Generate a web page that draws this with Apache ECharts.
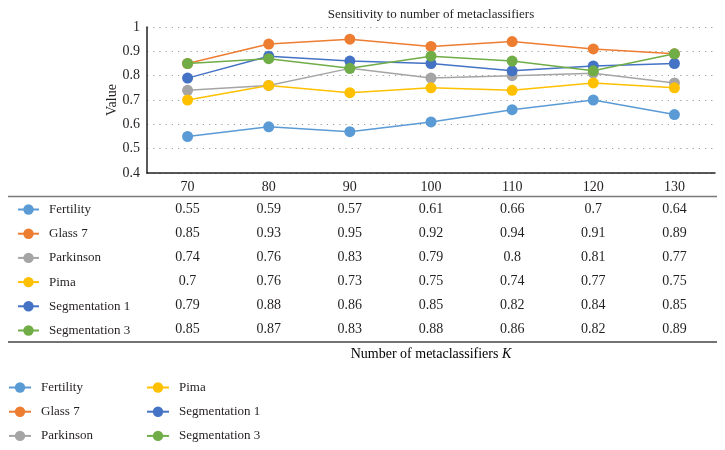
<!DOCTYPE html>
<html><head><meta charset="utf-8">
<script src="https://cdn.jsdelivr.net/npm/echarts@6/dist/echarts.min.js"></script>
<style>html,body{margin:0;padding:0;background:#fff}#c{width:725px;height:450px}</style>
</head><body><div id="c"></div>
<script>
const categories = ['70','80','90','100','110','120','130'];
const seriesNames = ['Fertility','Glass 7','Parkinson','Pima','Segmentation 1','Segmentation 3'];
const fertility = [0.55,0.59,0.57,0.61,0.66,0.7,0.64];
const glass7 = [0.85,0.93,0.95,0.92,0.94,0.91,0.89];
const parkinson = [0.74,0.76,0.83,0.79,0.8,0.81,0.77];
const pima = [0.7,0.76,0.73,0.75,0.74,0.77,0.75];
const segmentation1 = [0.79,0.88,0.86,0.85,0.82,0.84,0.85];
const segmentation3 = [0.85,0.87,0.83,0.88,0.86,0.82,0.89];
const yTicks = [0.4,0.5,0.6,0.7,0.8,0.9,1];
const titleText = 'Sensitivity to number of metaclassifiers';
const yName = 'Value';
const xName = 'Number of metaclassifiers ';
const xNameK = 'K';

const values = [fertility, glass7, parkinson, pima, segmentation1, segmentation3];
const colors = ['#5B9BD5','#ED7D31','#A5A5A5','#FFC000','#4472C4','#70AD47'];
const FONT = '"Liberation Serif", "DejaVu Serif", serif';
const TXT = '#231f20';

const chart = echarts.init(document.getElementById('c'), null, {renderer:'canvas'});
const legendText = {fontFamily: FONT, fontSize: 13, color: TXT, padding:[0,0,0,5]};
const legendCommon = {orient: 'vertical', itemWidth: 21, itemHeight: 13, itemGap: 11.2, padding: 0,
  selectedMode: false, textStyle: legendText, height: 200, width: 200};
const baseOpt = {
  animation: false,
  color: colors,
  grid: {left: 147, right: 10, top: 27, bottom: 277, containLabel: false},
  xAxis: {
    type: 'category', data: categories, boundaryGap: true,
    axisLine: {lineStyle: {color: '#222', width: 1.5}},
    axisTick: {show: false},
    axisLabel: {fontFamily: FONT, fontSize: 14, color: TXT, margin: 7}
  },
  yAxis: {
    type: 'value', min: yTicks[0], max: yTicks[yTicks.length-1], interval: 0.1,
    name: yName, nameLocation: 'middle', nameGap: 28, nameMoveOverlap: false,
    nameTextStyle: {fontFamily: FONT, fontSize: 14, color: TXT},
    axisLine: {show: true, lineStyle: {color: '#222', width: 1.5}},
    axisTick: {show: false},
    axisLabel: {fontFamily: FONT, fontSize: 14, color: TXT, margin: 7,
      formatter: v => String(Math.round(v*10)/10)},
    splitLine: {lineStyle: {color: '#9a9a9a', type: [1.2, 5], width: 1}}
  },
  legend: [
    Object.assign({}, legendCommon, {data: seriesNames, left: 17, top: 203}),
    Object.assign({}, legendCommon, {data: seriesNames.slice(0,3), left: 8, top: 381, itemWidth: 22}),
    Object.assign({}, legendCommon, {data: seriesNames.slice(3,6), left: 146, top: 381, itemWidth: 22})
  ],
  series: seriesNames.map((n,i) => ({
    name: n, type: 'line', data: values[i],
    symbol: 'circle', symbolSize: 11,
    lineStyle: {width: 1.5, color: colors[i]},
    itemStyle: {color: colors[i]},
    z: 2 + i
  }))
};
chart.setOption(baseOpt);

// Build data table texts through the category axis scale
const rowY0 = 209, rowStep = 24;
const graphics = [];
values.forEach((arr, r) => {
  arr.forEach((v, c) => {
    const px = chart.convertToPixel({xAxisIndex: 0}, categories[c]);
    graphics.push({type:'text', x: px, y: rowY0 + r*rowStep,
      style:{text: String(v), fontFamily: FONT, fontSize: 14, fill: TXT, align:'center', verticalAlign:'middle'}});
  });
});
graphics.push({type:'line', shape:{x1: 8, y1: 196.5, x2: 717, y2: 196.5}, style:{stroke:'#7a7a7a', lineWidth: 1.5}});
graphics.push({type:'line', shape:{x1: 8, y1: 342, x2: 717, y2: 342}, style:{stroke:'#444', lineWidth: 1.5}});
const midX = (chart.convertToPixel({xAxisIndex:0}, categories[0]) + chart.convertToPixel({xAxisIndex:0}, categories[categories.length-1]))/2;
graphics.push({type:'text', x: midX, y: 354, style:{
  text: '{a|' + xName + '}{b|' + xNameK + '}', align:'center', verticalAlign:'middle',
  rich: {a:{fontFamily: FONT, fontSize: 14, color: TXT}, b:{fontFamily: FONT, fontSize: 14, fontStyle:'italic', color: TXT}}
}});
graphics.push({type:'text', x: midX, y: 15, style:{text: titleText, align:'center', verticalAlign:'middle', fontFamily: FONT, fontSize: 13, fill: TXT}});
chart.setOption({graphic: graphics});
</script></body></html>
